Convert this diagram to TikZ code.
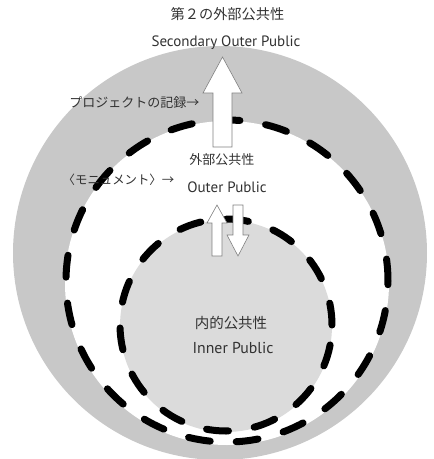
\documentclass[tikz,border=0pt]{standalone}
\usepackage{fontspec}
\setmainfont{PT Sans}
\newfontfamily\jp{Noto Sans CJK JP}
\definecolor{outergray}{RGB}{200,200,200}
\definecolor{innergray}{RGB}{219,219,219}
\definecolor{txtgray}{RGB}{50,50,50}
\begin{document}
\begin{tikzpicture}[x=1pt,y=-1pt,
  txt/.style={text=txtgray, inner sep=0pt},
  jptxt/.style={txt, font=\jp\fontsize{13}{15}\selectfont},
  entxt/.style={txt, font=\fontsize{15}{17}\selectfont},
  dashring/.style={line width=7pt, line cap=round, dash pattern=on 22pt off 26pt},
  blockarrow/.style={fill=white, draw=black!50, line width=0.6pt, line join=miter}]
\useasboundingbox (0,0) rectangle (434,459);
\fill[outergray] (220,253) circle[radius=207pt];
\fill[white] (227,283) circle[radius=162pt];
\fill[innergray] (226,326) circle[radius=106pt];
\draw[dashring] (227,281) circle[radius=161pt];
\draw[dashring] (226,325) circle[radius=106pt];
% arrows
\draw[blockarrow] (222.5,57) -- (242,93) -- (232,93) -- (232,147) -- (213,147) -- (213,93) -- (203,93) -- cycle;
\draw[blockarrow] (217,205) -- (227,223) -- (222,223) -- (222,256) -- (212,256) -- (212,223) -- (207,223) -- cycle;
\draw[blockarrow] (233,205) -- (243,205) -- (243,235) -- (249,235) -- (238,256) -- (227,235) -- (233,235) -- cycle;
% texts
\node[jptxt, font=\jp\fontsize{14.2}{16}\selectfont] (t1) at (227.5,14) {第２の外部公共性};
\node[entxt] (t2) at (226,43) {Secondary Outer Public};
\node[jptxt, font=\jp\fontsize{13}{15}\selectfont] (t3) at (134.5,103) {プロジェクトの記録→};
\node[jptxt, font=\jp\fontsize{12.4}{14}\selectfont] (t4) at (118.5,180) {〈モニュメント〉→};
\node[jptxt] (t5) at (222,160) {外部公共性};
\node[entxt] (t6) at (227,187) {Outer Public};
\node[jptxt, font=\jp\fontsize{14.5}{16}\selectfont] (t7) at (231,323) {内的公共性};
\node[entxt, font=\fontsize{15.8}{18}\selectfont] (t8) at (233,348) {Inner Public};
\end{tikzpicture}
\end{document}
